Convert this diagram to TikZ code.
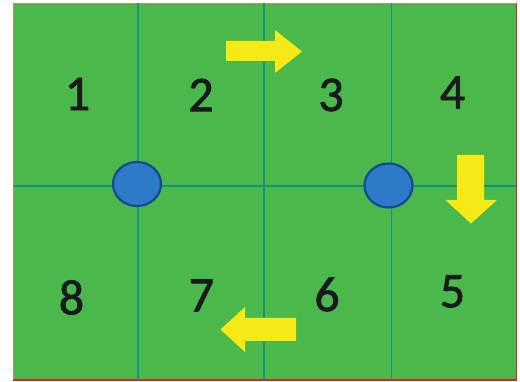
\documentclass[tikz,border=0pt]{standalone}
\usepackage{fontspec}
\setmainfont{Carlito}
\newfontfamily\digitfont[FakeBold=1.4]{Carlito}
\usetikzlibrary{shapes.geometric}
\definecolor{field}{RGB}{74,184,74}
\definecolor{gridline}{RGB}{18,150,120}
\definecolor{dotfill}{RGB}{44,122,200}
\definecolor{dotedge}{RGB}{22,72,150}
\definecolor{arrowyel}{RGB}{246,234,22}
\definecolor{edgered}{RGB}{228,30,36}
\definecolor{edgebrown}{RGB}{200,140,100}
\definecolor{digit}{RGB}{25,25,30}
\tikzset{
  num/.style={inner sep=0pt, font=\digitfont\fontsize{50}{50}\selectfont, text=digit},
  dot/.style={ellipse, draw=dotedge, line width=2.2pt, fill=dotfill, minimum width=48pt, minimum height=44pt, inner sep=0pt},
  grid line/.style={draw=gridline, line width=1.6pt},
  yarrow/.style={fill=arrowyel, draw=none}
}
\begin{document}
\begin{tikzpicture}[x=1pt,y=-1pt]
\useasboundingbox (0,0) rectangle (520,382);
\fill[white] (0,0) rectangle (520,382);
% field
\fill[field] (13,3) rectangle (516.5,380);
\draw[edgebrown, line width=0.8pt] (13,380) -- (13,3) -- (516.5,3);
\draw[edgered, line width=1.8pt] (516.5,3) -- (516.5,380) -- (13,380);
% grid
\coordinate (vt1) at (138,3);   \coordinate (vb1) at (138,380);
\coordinate (vt2) at (264,3);   \coordinate (vb2) at (264,380);
\coordinate (vt3) at (391.5,3); \coordinate (vb3) at (391.5,380);
\coordinate (hl) at (13,186);   \coordinate (hr) at (516,186);
\draw[grid line] (vt1) -- (vb1);
\draw[grid line] (vt2) -- (vb2);
\draw[grid line] (vt3) -- (vb3);
\draw[grid line] (hl) -- (hr);
% dots
\node[dot] (d1) at (137,184) {};
\node[dot] (d2) at (388.5,185.5) {};
% numbers
\node[num] (n1) at (77.5,94) {1};
\node[num] (n2) at (201,95) {2};
\node[num] (n3) at (331,95) {3};
\node[num] (n4) at (452.5,92.5) {4};
\node[num] (n8) at (71.5,297.5) {8};
\node[num] (n7) at (201.5,295.5) {7};
\node[num] (n6) at (327,294.5) {6};
\node[num] (n5) at (452.5,291.5) {5};
% arrows
\fill[yarrow] (226,41) -- (275,41) -- (275,30) -- (302,51.5) -- (275,73) -- (275,61) -- (226,61) -- cycle;
\fill[yarrow] (457,155) -- (484,155) -- (484,200) -- (497,200) -- (471,223.5) -- (445.5,200) -- (457,200) -- cycle;
\fill[yarrow] (296,318) -- (245,318) -- (245,307) -- (220.5,329.5) -- (245,352) -- (245,341) -- (296,341) -- cycle;
\end{tikzpicture}
\end{document}
